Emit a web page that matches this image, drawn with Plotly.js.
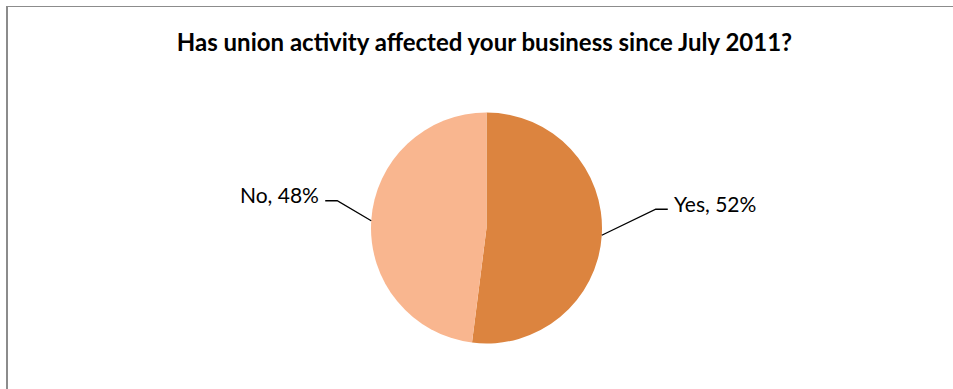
<!DOCTYPE html>
<html>
<head>
<meta charset="utf-8">
<script src="https://cdn.plot.ly/plotly-3.0.1.min.js"></script>
<style>
  html, body { margin: 0; padding: 0; background: #fff; }
  #chart { width: 953px; height: 389px; }
</style>
</head>
<body>
<div id="chart"></div>
<script>
// Survey answers
const answers = ["Yes", "No"];
const shares = [52, 48];
const sliceColors = ["#DC843F", "#F9B68F"];
const chartTitle = "Has union activity affected your business since July 2011?";

// Figure geometry (pixels)
const W = 953, H = 389;
const cx = 486.5, cy = 228, R = 115.5;

// Where each data label sits, as an offset from its leader-line start on the rim
const labelElbow = [{dx: 54, dy: -26}, {dx: -34, dy: -20}];
const tailLen = 12;   // horizontal part of the leader line
const textGap = 4;    // space between line end and text
const textRaise = 6;  // label sits a little above the leader line

const px = x => x / W;
const py = y => 1 - y / H;

// Mid-angle of each slice (clockwise from 12 o'clock, like the pie trace)
const total = shares.reduce((a, b) => a + b, 0);
let acc = 0;
const shapes = [];
const annotations = [];
shares.forEach((v, i) => {
  const midFrac = (acc + v / 2) / total;
  acc += v;
  const theta = Math.PI / 2 - midFrac * 2 * Math.PI;
  const sx = cx + R * Math.cos(theta);
  const sy = cy - R * Math.sin(theta);
  const ex = sx + labelElbow[i].dx;
  const ey = sy + labelElbow[i].dy;
  const side = labelElbow[i].dx >= 0 ? 1 : -1;
  const tx = ex + side * tailLen;
  shapes.push({
    type: "path", xref: "paper", yref: "paper",
    path: `M ${px(sx)} ${py(sy)} L ${px(ex)} ${py(ey)} L ${px(tx)} ${py(ey)}`,
    line: {color: "#000000", width: 1.3}
  });
  annotations.push({
    xref: "paper", yref: "paper",
    x: px(tx + side * textGap), y: py(ey - textRaise),
    xanchor: side > 0 ? "left" : "right", yanchor: "middle",
    text: `${answers[i]}, ${v}%`, showarrow: false,
    font: {family: "Lato, 'Liberation Sans', sans-serif", size: 21, color: "#000"}
  });
});

// Chart area frame (left and top edges are visible)
shapes.push({type: "line", xref: "paper", yref: "paper",
  x0: px(7), x1: px(7), y0: py(H + 5), y1: py(6.5),
  line: {color: "#8c8c8c", width: 2}});
shapes.push({type: "line", xref: "paper", yref: "paper",
  x0: px(6), x1: px(W + 5), y0: py(6.5), y1: py(6.5),
  line: {color: "#8c8c8c", width: 1}});

const trace = {
  type: "pie",
  labels: answers,
  values: shares,
  sort: false,
  direction: "clockwise",
  rotation: 0,
  textinfo: "none",
  hoverinfo: "label+percent",
  marker: {colors: sliceColors, line: {color: "#ffffff", width: 0}},
  domain: {x: [px(cx - R), px(cx + R)], y: [py(cy + R), py(cy - R)]},
  showlegend: false
};

const layout = {
  width: W, height: H,
  margin: {l: 0, r: 0, t: 0, b: 0},
  paper_bgcolor: "#ffffff",
  title: {
    text: "<b>" + chartTitle + "</b>",
    x: 484.5 / W, xanchor: "center",
    y: py(43), yanchor: "middle",
    font: {family: "Lato, 'Liberation Sans', sans-serif", size: 24, color: "#000"}
  },
  shapes: shapes,
  annotations: annotations
};

Plotly.newPlot("chart", [trace], layout, {displayModeBar: false, staticPlot: true});
</script>
</body>
</html>
